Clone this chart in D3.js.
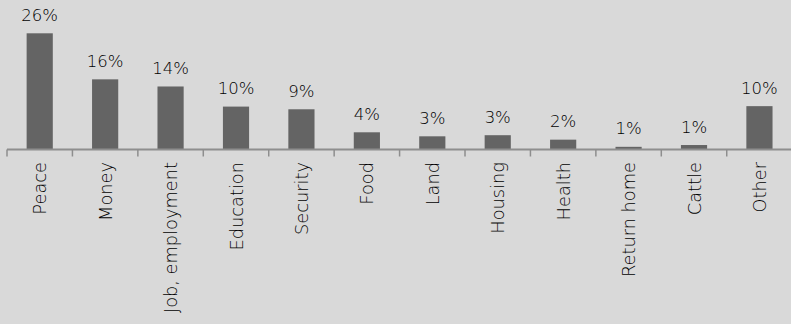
<!DOCTYPE html>
<html>
<head>
<meta charset="utf-8">
<script src="https://cdn.jsdelivr.net/npm/d3@7"></script>
<style>
  html, body { margin: 0; padding: 0; background: #d9d9d9; }
  svg { display: block; }
</style>
</head>
<body>
<svg id="chart" width="791" height="324"></svg>
<script>
const categories = ["Peace", "Money", "Job, employment", "Education", "Security", "Food", "Land", "Housing", "Health", "Return home", "Cattle", "Other"];
const values = [26, 15.7, 14.1, 9.6, 9.0, 3.85, 2.95, 3.2, 2.2, 0.6, 1.0, 9.7];
const valueLabels = ["26%", "16%", "14%", "10%", "9%", "4%", "3%", "3%", "2%", "1%", "1%", "10%"];

const W = 791, H = 324;
const svg = d3.select("#chart");
svg.append("rect").attr("width", W).attr("height", H).attr("fill", "#d9d9d9");

const baseY = 149.5;
const x = d3.scaleBand().domain(categories).range([7, 7 + 12 * 65.43]).paddingInner(0.6).paddingOuter(0.3);
const y = d3.scaleLinear().domain([0, 26]).range([baseY, 33.3]);

const font = "'DejaVu Sans', sans-serif";

// bars
svg.append("g").selectAll("rect").data(categories).join("rect")
  .attr("x", d => x(d))
  .attr("width", x.bandwidth())
  .attr("y", (d, i) => y(values[i]))
  .attr("height", (d, i) => baseY - y(values[i]))
  .attr("fill", "#646464");

// value labels
svg.append("g").selectAll("text").data(categories).join("text")
  .attr("x", d => x(d) + x.bandwidth() / 2)
  .attr("y", (d, i) => y(values[i]) - 12.5)
  .attr("text-anchor", "middle")
  .attr("font-family", font)
  .attr("font-weight", 200)
  .attr("font-size", 16.5)
  .attr("fill", "#000")
  .text((d, i) => valueLabels[i]);

// axis
const step = x.step();
const boundaries = categories.map((d, i) => 7 + i * step);
const axisG = svg.append("g");
axisG.append("line")
  .attr("x1", 7).attr("x2", W)
  .attr("y1", baseY).attr("y2", baseY)
  .attr("stroke", "#8e8e8e").attr("stroke-width", 2);
axisG.selectAll("line.tick").data(boundaries).join("line")
  .attr("class", "tick")
  .attr("x1", d => d).attr("x2", d => d)
  .attr("y1", baseY).attr("y2", baseY + 7)
  .attr("stroke", "#8e8e8e").attr("stroke-width", 1.5);

// category labels
svg.append("g").selectAll("text").data(categories).join("text")
  .attr("transform", d => `translate(${x(d) + x.bandwidth() / 2},162) rotate(-90)`)
  .attr("text-anchor", "end")
  .attr("dy", "0.37em")
  .attr("font-family", font)
  .attr("font-weight", 200)
  .attr("font-size", 17.8)
  .attr("fill", "#000")
  .text(d => d);
</script>
</body>
</html>
